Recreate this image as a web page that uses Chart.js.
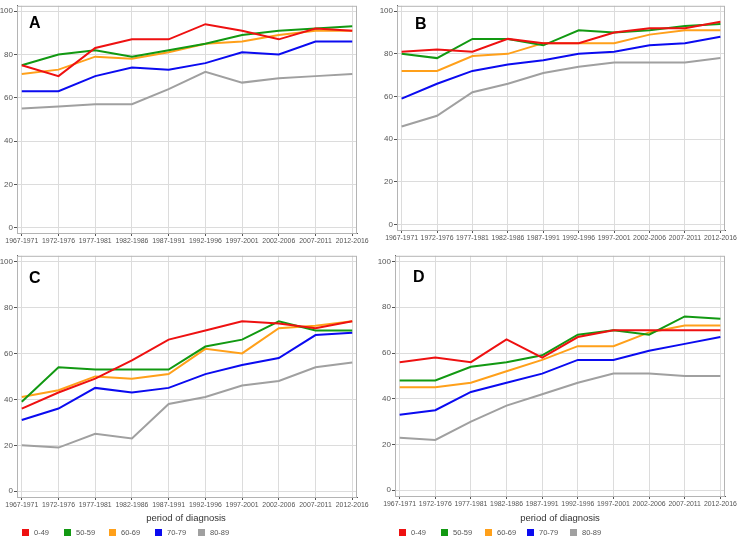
<!DOCTYPE html>
<html>
<head>
<meta charset="utf-8">
<script src="https://cdn.jsdelivr.net/npm/chart.js@4/dist/chart.umd.min.js"></script>
<style>
  body { margin: 0; background: #fff; width: 740px; height: 540px; position: relative; overflow: hidden;
         font-family: "Liberation Sans", Arial, sans-serif; }
  canvas { position: absolute; }
  .letter { position: absolute; font-weight: bold; font-size: 16px; line-height: 16px; color: #000; }
  .xtitle { position: absolute; font-size: 9.5px; line-height: 10px; color: #333; width: 200px; text-align: center; }
  .item { position: absolute; font-size: 7.5px; line-height: 8px; color: #555; white-space: nowrap; }
  .item span { display: inline-block; width: 7px; height: 7px; margin-right: 5px; vertical-align: -1px; }
</style>
</head>
<body>
<canvas id="cA" width="370" height="250" style="left:0;top:0"></canvas>
<canvas id="cB" width="370" height="250" style="left:370px;top:0"></canvas>
<canvas id="cC" width="370" height="290" style="left:0;top:250px"></canvas>
<canvas id="cD" width="370" height="290" style="left:370px;top:250px"></canvas>
<div id="overlay"></div>
<script>
const periods = ["1967-1971", "1972-1976", "1977-1981", "1982-1986", "1987-1991",
                 "1992-1996", "1997-2001", "2002-2006", "2007-2011", "2012-2016"];
const groups = ["0-49", "50-59", "60-69", "70-79", "80-89"];
const yTicks = [0, 20, 40, 60, 80, 100];

// one row per age group, same order as groups
const panelA = [
  [75, 70, 83, 87, 87, 94, 91, 87, 92, 91],
  [75, 80, 82, 79, 82, 85, 89, 91, 92, 93],
  [71, 73, 79, 78, 81, 85, 86, 89, 91, 91],
  [63, 63, 70, 74, 73, 76, 81, 80, 86, 86],
  [55, 56, 57, 57, 64, 72, 67, 69, 70, 71]
];
const panelB = [
  [81, 82, 81, 87, 85, 85, 90, 92, 92, 95],
  [80, 78, 87, 87, 84, 91, 90, 91, 93, 94],
  [72, 72, 79, 80, 85, 85, 85, 89, 91, 91],
  [59, 66, 72, 75, 77, 80, 81, 84, 85, 88],
  [46, 51, 62, 66, 71, 74, 76, 76, 76, 78]
];
const panelC = [
  [36, 43, 49, 57, 66, 70, 74, 73, 71, 74],
  [39, 54, 53, 53, 53, 63, 66, 74, 70, 70],
  [41, 44, 50, 49, 51, 62, 60, 71, 72, 74],
  [31, 36, 45, 43, 45, 51, 55, 58, 68, 69],
  [20, 19, 25, 23, 38, 41, 46, 48, 54, 56]
];
const panelD = [
  [56, 58, 56, 66, 58, 67, 70, 70, 70, 70],
  [48, 48, 54, 56, 59, 68, 70, 68, 76, 75],
  [45, 45, 47, 52, 57, 63, 63, 69, 72, 72],
  [33, 35, 43, 47, 51, 57, 57, 61, 64, 67],
  [23, 22, 30, 37, 42, 47, 51, 51, 50, 50]
];

const colors = ["#ee1111", "#129912", "#ffa01a", "#0b0bf0", "#a0a0a0"];
const font = "'Liberation Sans', Arial, sans-serif";

// light frame round the plot area, axes lines drawn darker by the scales
const framePlugin = {
  id: "frame",
  beforeDatasetsDraw(chart) {
    const a = chart.chartArea, ctx = chart.ctx;
    ctx.save();
    ctx.strokeStyle = "#b4b4b4";
    ctx.lineWidth = 1;
    ctx.strokeRect(a.left + 0.5, a.top + 0.5, a.right - a.left - 1, a.bottom - a.top);
    ctx.restore();
  }
};

function makePanel(id, series, box) {
  const cv = document.getElementById(id);
  const W = cv.width, H = cv.height;
  return new Chart(cv, {
    type: "line",
    data: {
      datasets: series.map((vals, i) => ({
        label: groups[i],
        data: vals.map((v, j) => ({ x: j, y: v })),
        borderColor: colors[i],
        backgroundColor: colors[i],
        borderWidth: 2,
        pointRadius: 0,
        tension: 0,
        fill: false
      }))
    },
    options: {
      responsive: false,
      animation: false,
      devicePixelRatio: 1,
      layout: { padding: { left: 0, right: W - box.right, top: box.top, bottom: 0 } },
      plugins: { legend: { display: false }, tooltip: { enabled: false } },
      scales: {
        x: {
          type: "linear", min: -0.13, max: 9.13,
          afterBuildTicks: s => { s.ticks = periods.map((p, i) => ({ value: i })); },
          afterFit: s => { s.height = H - box.bottom; },
          ticks: { autoSkip: false, maxRotation: 0, minRotation: 0, padding: 1,
                   callback: v => periods[v], color: "#555", font: { family: font, size: 6.9 } },
          grid: { color: "#dcdcdc", tickColor: "#555", tickLength: 3 },
          border: { color: "#555", width: 1 }
        },
        y: {
          min: -2.5, max: 102.5,
          afterBuildTicks: s => { s.ticks = yTicks.map(v => ({ value: v })); },
          afterFit: s => { s.width = box.left; },
          ticks: { padding: 1, color: "#555", font: { family: font, size: 8 } },
          grid: { color: "#dcdcdc", tickColor: "#555", tickLength: 3 },
          border: { color: "#555", width: 1 }
        }
      }
    },
    plugins: [framePlugin]
  });
}

makePanel("cA", panelA, { left: 17, right: 357, top: 1, bottom: 233 });
makePanel("cB", panelB, { left: 27, right: 355, top: 1, bottom: 230 });
makePanel("cC", panelC, { left: 17, right: 357, top: 4, bottom: 247 });
makePanel("cD", panelD, { left: 25, right: 355, top: 3, bottom: 246 });

// panel letters, axis titles and legends
const overlay = document.getElementById("overlay");
const letters = [["A", 29, 15], ["B", 415, 16], ["C", 29, 270], ["D", 413, 269]];
letters.forEach(([t, x, y]) => {
  const d = document.createElement("div");
  d.className = "letter";
  d.style.left = x + "px"; d.style.top = y + "px";
  d.textContent = t;
  overlay.appendChild(d);
});

[[86, 513], [460, 513]].forEach(([x, y]) => {
  const d = document.createElement("div");
  d.className = "xtitle";
  d.style.left = x + "px"; d.style.top = y + "px";
  d.textContent = "period of diagnosis";
  overlay.appendChild(d);
});

const legendC = [22, 64, 109, 155, 198];
const legendD = [399, 441, 485, 527, 570];
[legendC, legendD].forEach(xs => {
  xs.forEach((x, i) => {
    const d = document.createElement("div");
    d.className = "item";
    d.style.left = x + "px"; d.style.top = "529px";
    d.innerHTML = '<span style="background:' + colors[i] + '"></span>' + groups[i];
    overlay.appendChild(d);
  });
});
</script>
</body>
</html>
